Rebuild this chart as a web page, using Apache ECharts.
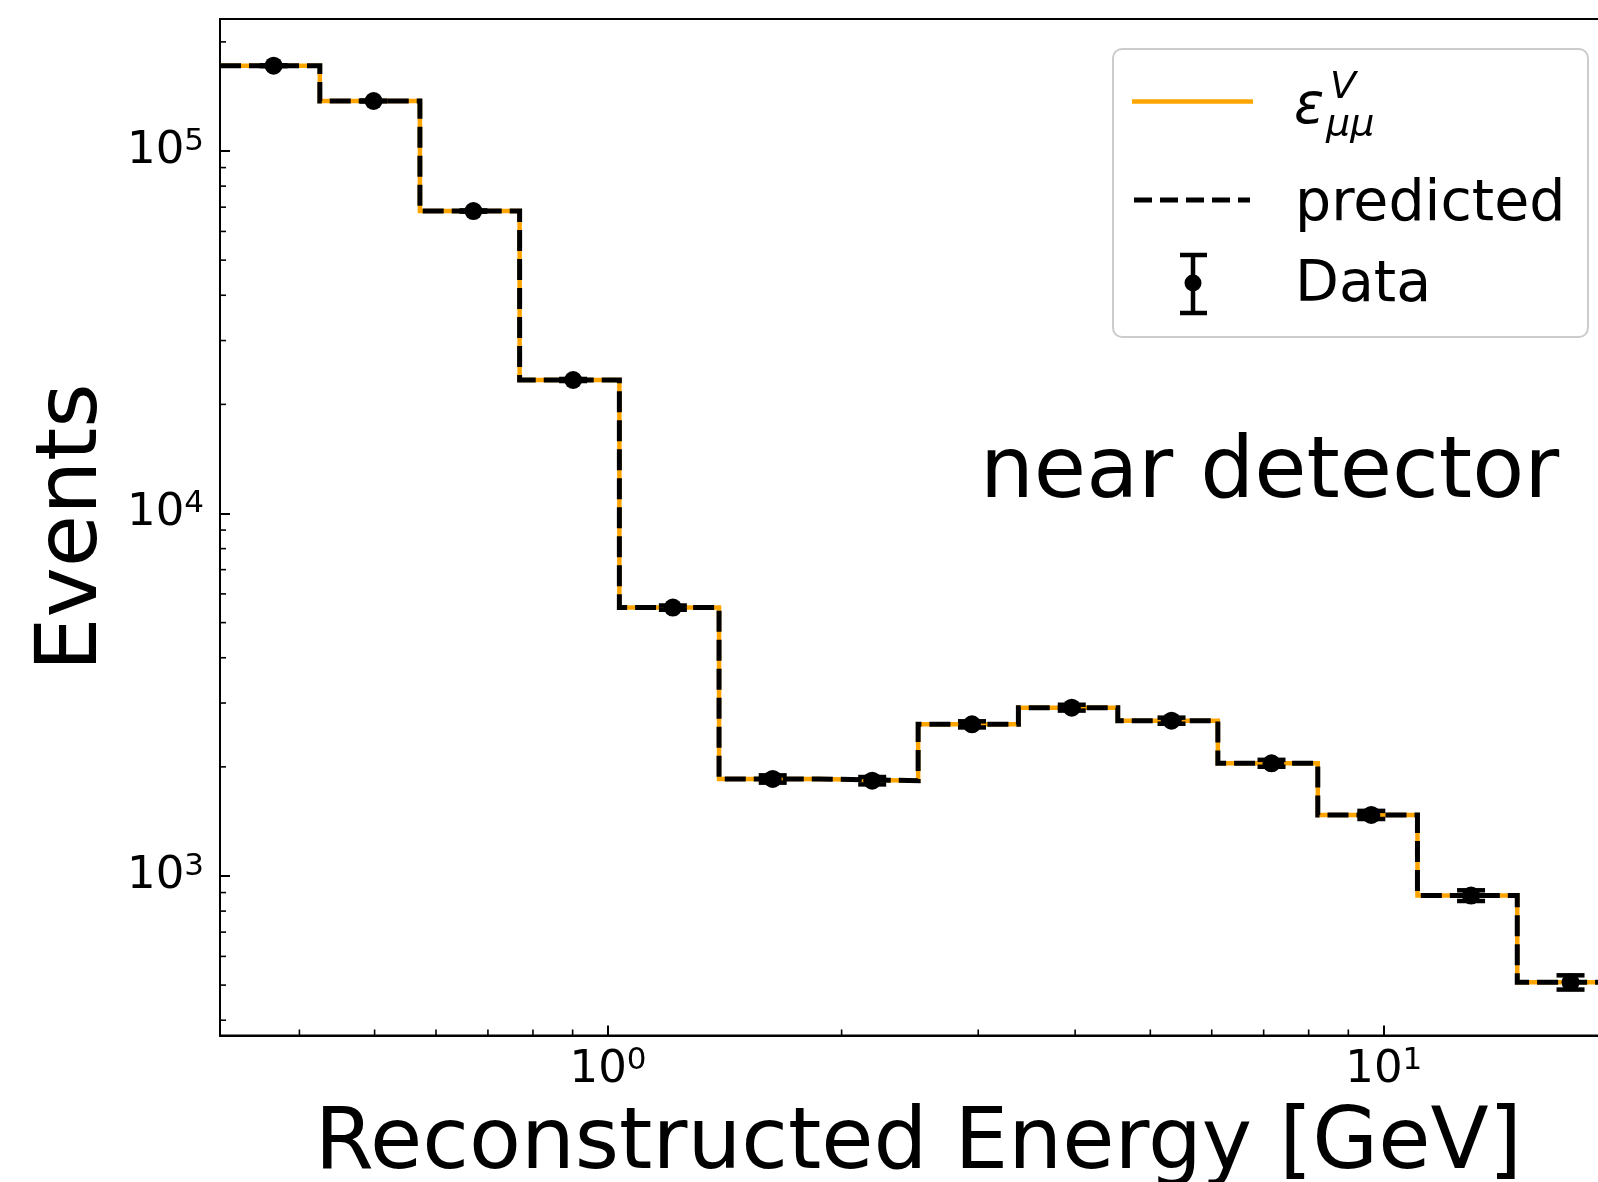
<!DOCTYPE html>
<html>
<head>
<meta charset="utf-8">
<script src="https://cdn.jsdelivr.net/npm/echarts@6/dist/echarts.min.js"></script>
<style>
html,body{margin:0;padding:0;background:#fff;}
#chart{width:1598px;height:1182px;}
</style>
</head>
<body>
<div id="chart"></div>
<script>
// ---- data ----
const binEdges = [0.316, 0.425, 0.572, 0.769, 1.034, 1.39, 1.87, 2.51, 3.38, 4.54, 6.11, 8.22, 11.05, 14.86, 19.95];
const binCenters = [0.3705, 0.4985, 0.6705, 0.9015, 1.212, 1.63, 2.19, 2.945, 3.96, 5.325, 7.165, 9.635, 12.955, 17.405];
const epsilonValues = [171900, 137400, 68300, 23350, 5500, 1852, 1832, 2620, 2913, 2682, 2046, 1474, 883, 509];
const predictedValues = [171900, 137400, 68300, 23350, 5500, 1852, 1832, 2620, 2913, 2682, 2046, 1474, 883, 509];
const dataValues = [171900, 137400, 68300, 23350, 5500, 1852, 1832, 2620, 2913, 2682, 2046, 1474, 883, 509];
const dataErrors = [415, 371, 261, 153, 74, 43, 43, 51, 54, 52, 45, 38, 30, 23];
const xMinorTicks = [0.4, 0.5, 0.6, 0.7, 0.8, 0.9, 2, 3, 4, 5, 6, 7, 8, 9];
const yMinorTicks = [400, 500, 600, 700, 800, 900, 2000, 3000, 4000, 5000, 6000, 7000, 8000, 9000,
                     20000, 30000, 40000, 50000, 60000, 70000, 80000, 90000, 200000];
const xLabel = 'Reconstructed Energy [GeV]';
const yLabel = 'Events';
const annotation = 'near detector';

const FONT = 'DejaVu Sans';

function steps(vals) {
  const pts = [];
  for (let i = 0; i < vals.length; i++) {
    pts.push([binEdges[i], vals[i]]);
    pts.push([binEdges[i + 1], vals[i]]);
  }
  return pts;
}
function powLabel(v) {
  const l = Math.log10(v);
  const e = Math.round(l);
  if (Math.abs(l - e) > 1e-6) return '';
  return '{b|10}{s|' + e + '}';
}
const richLab = {
  b: {fontSize: 45, fontFamily: FONT, color: '#000', lineHeight: 50},
  s: {fontSize: 31, fontFamily: FONT, color: '#000', lineHeight: 31, verticalAlign: 'top'}
};

const chart = echarts.init(document.getElementById('chart'), null, {renderer: 'canvas'});

const option = {
  animation: false,
  backgroundColor: '#fff',
  grid: {left: 220, top: 19, right: -18.5, bottom: 146.5, show: true, borderColor: '#000', borderWidth: 2,
         containLabel: false, outerBoundsMode: 'none'},
  xAxis: {
    type: 'log', logBase: 10, min: 0.316, max: 19.95,
    axisLine: {show: true, lineStyle: {color: '#000', width: 2}},
    axisTick: {show: true, inside: true, length: 10, lineStyle: {color: '#000', width: 2}},
    splitLine: {show: false},
    axisLabel: {margin: 10, formatter: powLabel, rich: richLab, showMinLabel: true, showMaxLabel: true},
    name: xLabel, nameLocation: 'middle', nameGap: 110,
    nameTextStyle: {fontSize: 85, fontFamily: FONT, color: '#000', verticalAlign: 'middle'}
  },
  yAxis: {
    type: 'log', logBase: 10, min: 363, max: 231300,
    axisLine: {show: true, lineStyle: {color: '#000', width: 2}},
    axisTick: {show: true, inside: true, length: 10, lineStyle: {color: '#000', width: 2}},
    splitLine: {show: false},
    axisLabel: {margin: 16, formatter: powLabel, rich: richLab},
    name: yLabel, nameLocation: 'middle', nameGap: 143,
    nameTextStyle: {fontSize: 85, fontFamily: FONT, color: '#000', verticalAlign: 'middle'}
  },
  series: [
    {
      name: 'epsilon', type: 'line', data: steps(epsilonValues), showSymbol: false, z: 2,
      lineStyle: {color: '#ffa500', width: 4.5, cap: 'butt', join: 'miter'}, silent: true
    },
    {
      name: 'predicted', type: 'line', data: steps(predictedValues), showSymbol: false, z: 3,
      lineStyle: {color: '#000', width: 5, type: [21, 8], cap: 'butt', join: 'miter'}, silent: true
    },
    {
      name: 'Data errors', type: 'custom', z: 4, silent: true,
      data: binCenters.map((x, i) => [x, dataValues[i], dataErrors[i]]),
      encode: {x: 0, y: 1},
      renderItem: function (params, api) {
        const x = api.value(0), v = api.value(1), e = api.value(2);
        const lo = api.coord([x, v - e]);
        const hi = api.coord([x, v + e]);
        const st = {stroke: '#000', lineWidth: 4.5};
        return {type: 'group', children: [
          {type: 'line', shape: {x1: lo[0], y1: lo[1], x2: hi[0], y2: hi[1]}, style: st},
          {type: 'line', shape: {x1: lo[0] - 14, y1: lo[1], x2: lo[0] + 14, y2: lo[1]}, style: st},
          {type: 'line', shape: {x1: hi[0] - 14, y1: hi[1], x2: hi[0] + 14, y2: hi[1]}, style: st}
        ]};
      }
    },
    {
      name: 'Data', type: 'scatter', z: 5, silent: true,
      data: binCenters.map((x, i) => [x, dataValues[i]]),
      symbol: 'circle', symbolSize: 18, itemStyle: {color: '#000', opacity: 1}
    },
    {
      name: 'x minor ticks', type: 'custom', z: 6, silent: true,
      data: xMinorTicks.map(v => [v, 1000]), encode: {x: 0, y: 1},
      renderItem: function (params, api) {
        const x = api.coord([api.value(0), 1000])[0];
        const yb = params.coordSys.y + params.coordSys.height;
        return {type: 'line', shape: {x1: x, y1: yb, x2: x, y2: yb - 6}, style: {stroke: '#000', lineWidth: 1.6}};
      }
    },
    {
      name: 'y minor ticks', type: 'custom', z: 6, silent: true,
      data: yMinorTicks.map(v => [1, v]), encode: {x: 0, y: 1},
      renderItem: function (params, api) {
        const y = api.coord([1, api.value(1)])[1];
        const xl = params.coordSys.x;
        return {type: 'line', shape: {x1: xl, y1: y, x2: xl + 6, y2: y}, style: {stroke: '#000', lineWidth: 1.6}};
      }
    }
  ],
  graphic: [
    {type: 'text', x: 980, y: 475, z: 50,
     style: {text: annotation, font: '85px "DejaVu Sans"', fill: '#000', align: 'left', verticalAlign: 'middle', textAlign: 'left', textVerticalAlign: 'middle'}},
    {type: 'group', z: 100, children: [
      {type: 'rect', shape: {x: 1113, y: 49, width: 475, height: 288, r: 9},
       style: {fill: 'rgba(255,255,255,0.8)', stroke: '#cccccc', lineWidth: 2}},
      {type: 'line', shape: {x1: 1132, y1: 101.5, x2: 1253, y2: 101.5}, style: {stroke: '#ffa500', lineWidth: 4.5}},
      {type: 'text', x: 1294, y: 108.7,
       style: {text: 'ε', font: 'italic 56px "DejaVu Sans"', fill: '#000', align: 'left', verticalAlign: 'middle', textAlign: 'left', textVerticalAlign: 'middle'}},
      {type: 'text', x: 1330, y: 87.7,
       style: {text: 'V', font: 'italic 38px "DejaVu Sans"', fill: '#000', align: 'left', verticalAlign: 'middle', textAlign: 'left', textVerticalAlign: 'middle'}},
      {type: 'text', x: 1326, y: 124.7,
       style: {text: 'μμ', font: 'italic 38px "DejaVu Sans"', fill: '#000', align: 'left', verticalAlign: 'middle', textAlign: 'left', textVerticalAlign: 'middle'}},
      {type: 'line', shape: {x1: 1134, y1: 200, x2: 1250, y2: 200}, style: {stroke: '#000', lineWidth: 5, lineDash: [18, 8]}},
      {type: 'text', x: 1295, y: 205.2,
       style: {text: 'predicted', font: '57px "DejaVu Sans"', fill: '#000', align: 'left', verticalAlign: 'middle', textAlign: 'left', textVerticalAlign: 'middle'}},
      {type: 'line', shape: {x1: 1193, y1: 255, x2: 1193, y2: 313}, style: {stroke: '#000', lineWidth: 4.5}},
      {type: 'line', shape: {x1: 1180, y1: 255, x2: 1207, y2: 255}, style: {stroke: '#000', lineWidth: 4.5}},
      {type: 'line', shape: {x1: 1180, y1: 313, x2: 1207, y2: 313}, style: {stroke: '#000', lineWidth: 4.5}},
      {type: 'circle', shape: {cx: 1193, cy: 283, r: 8.5}, style: {fill: '#000'}},
      {type: 'text', x: 1295, y: 286.2,
       style: {text: 'Data', font: '57px "DejaVu Sans"', fill: '#000', align: 'left', verticalAlign: 'middle', textAlign: 'left', textVerticalAlign: 'middle'}}
    ]}
  ]
};
chart.setOption(option);
</script>
</body>
</html>
